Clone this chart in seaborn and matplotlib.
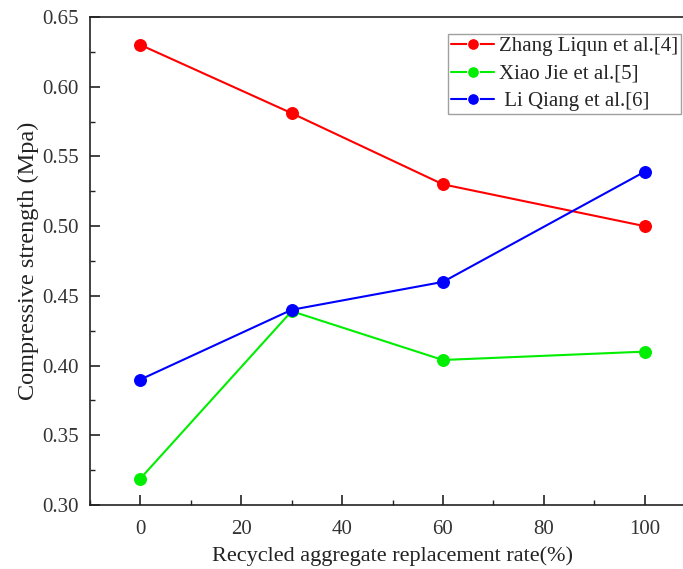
import pandas as pd
import matplotlib.pyplot as plt
import seaborn as sns
from matplotlib.ticker import MultipleLocator

rates = [0, 30, 60, 100]
zhang = [0.630, 0.581, 0.530, 0.500]
xiao = [0.319, 0.439, 0.404, 0.410]
li = [0.390, 0.440, 0.460, 0.539]
labels = ["Zhang Liqun et al.[4]", "Xiao Jie et al.[5]", " Li Qiang et al.[6]"]
colors = ["#ff0000", "#00ee00", "#0000ff"]

df = pd.concat([
    pd.DataFrame({"rate": rates, "strength": vals, "source": lab})
    for vals, lab in zip([zhang, xiao, li], labels)
])

sns.set_style("ticks")
plt.rcParams['font.family'] = ['Liberation Serif', 'DejaVu Serif']

fig = plt.figure(figsize=(6.83, 5.69), dpi=100)
ax = fig.add_axes([90 / 683, 1 - 505 / 569, 605 / 683, 488 / 569])

sns.lineplot(data=df, x="rate", y="strength", hue="source", palette=colors,
             marker="o", markersize=8.5, linewidth=1.5, markeredgewidth=0.8,
             ax=ax)
for line, c in zip(ax.lines, colors):
    line.set_markeredgecolor(c)

ax.set_xlim(-10, 110)
ax.set_ylim(0.30, 0.65)
ax.xaxis.set_major_locator(MultipleLocator(20))
ax.xaxis.set_minor_locator(MultipleLocator(10))
ax.yaxis.set_major_locator(MultipleLocator(0.05))
ax.yaxis.set_minor_locator(MultipleLocator(0.025))
ax.yaxis.set_major_formatter(plt.FormatStrFormatter('%.2f'))
ax.tick_params(which='major', direction='in', length=7, width=1.2,
               labelsize=15, colors='#222222', labelcolor='#333333')
ax.tick_params(axis='y', which='major', pad=8)
ax.tick_params(axis='x', which='major', pad=11)
ax.tick_params(which='minor', direction='in', length=3.5, width=1.0, colors='#222222')
for s in ax.spines.values():
    s.set_linewidth(1.2)
    s.set_color('#222222')

ax.set_xlabel("Recycled aggregate replacement rate(%)", fontsize=16,
              color='#222222', labelpad=5)
ax.set_ylabel("Compressive strength (Mpa)", fontsize=17.5, color='#222222',
              labelpad=2)

leg = ax.legend(loc='upper left', bbox_to_anchor=(0.591, 0.966), fontsize=15,
                frameon=True, fancybox=False, edgecolor='#888888',
                handlelength=2.1, borderpad=0.15, labelspacing=0.38,
                handletextpad=0.2, borderaxespad=0)
leg.get_frame().set_linewidth(1.0)

fig.savefig("out.png", dpi=100)
